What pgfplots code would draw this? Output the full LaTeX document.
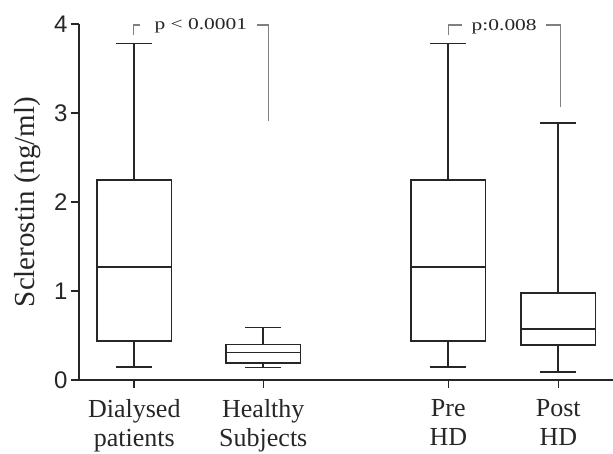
\documentclass[border=0pt]{standalone}
\usepackage{pgfplots}
\pgfplotsset{compat=1.18}
\usepgfplotslibrary{statistics}
\usepackage{fontspec}
\setmainfont{Liberation Serif}
\newfontfamily\arial{Liberation Sans}
\begin{document}
\begin{tikzpicture}
\begin{axis}[
 scale only axis, width=534pt, height=356pt,
 xmin=0.79, xmax=6.13, ymin=0, ymax=4,
 axis x line*=bottom, axis y line*=left,
 axis line style={line width=1.6pt, black!85},
 tick style={line width=1.6pt, black!85},
 major tick length=8pt, tick align=outside,
 xtick={1.343,2.633,4.483,5.583},
 xticklabels={Dialysed\\patients, Healthy\\Subjects, Pre\\HD, Post\\HD},
 xticklabel style={align=center, font=\fontsize{26}{29}\selectfont, yshift=-8pt, text=black!85},
 ytick={0,1,2,3,4},
 yticklabel style={font=\fontsize{24}{26}\selectfont\arial, text=black!85},
 /pgf/number format/assume math mode=true,
 ylabel={Sclerostin (ng/ml)},
 ylabel style={font=\fontsize{29}{32}\selectfont, at={(axis description cs:-0.096,0.5)}, anchor=center, text=black!85},
 clip=false,
 boxplot/draw direction=y,
 boxplot/every box/.style={draw=black!85, line width=1.7pt},
 boxplot/every median/.style={draw=black!85, line width=1.7pt},
 boxplot/every whisker/.style={draw=black!85, line width=1.7pt},
]
\addplot[boxplot prepared={lower whisker=0.15, lower quartile=0.44, median=1.27, upper quartile=2.25, upper whisker=3.78, draw position=1.343, box extend=0.745, whisker extend=0.36}, draw=black!85, line width=1.7pt] coordinates {};
\addplot[boxplot prepared={lower whisker=0.14, lower quartile=0.19, median=0.31, upper quartile=0.40, upper whisker=0.59, draw position=2.633, box extend=0.745, whisker extend=0.36}, draw=black!85, line width=1.7pt] coordinates {};
\addplot[boxplot prepared={lower whisker=0.15, lower quartile=0.44, median=1.27, upper quartile=2.25, upper whisker=3.78, draw position=4.483, box extend=0.745, whisker extend=0.36}, draw=black!85, line width=1.7pt] coordinates {};
\addplot[boxplot prepared={lower whisker=0.09, lower quartile=0.39, median=0.57, upper quartile=0.98, upper whisker=2.89, draw position=5.583, box extend=0.745, whisker extend=0.36}, draw=black!85, line width=1.7pt] coordinates {};
\addplot[gray, line width=1.4pt] coordinates {(1.333,3.876) (1.333,3.989) (1.405,3.989)};
\addplot[gray, line width=1.4pt] coordinates {(2.567,3.989) (2.683,3.989) (2.683,2.913)};
\addplot[gray, line width=1.4pt] coordinates {(4.483,3.876) (4.483,3.989) (4.617,3.989)};
\addplot[gray, line width=1.4pt] coordinates {(5.457,3.989) (5.607,3.989) (5.607,3.07)};
\node[anchor=base, font=\fontsize{16.5}{18}\selectfont, xscale=1.3, text=black!85] at (axis cs:2.008,3.94) {p < 0.0001};
\node[anchor=base, font=\fontsize{16.5}{18}\selectfont, xscale=1.3, text=black!85] at (axis cs:5.042,3.93) {p:0.008};
\end{axis}
\pgfresetboundingbox
\path (-79pt,-73pt) rectangle (534pt,380pt);
\end{tikzpicture}
\end{document}
